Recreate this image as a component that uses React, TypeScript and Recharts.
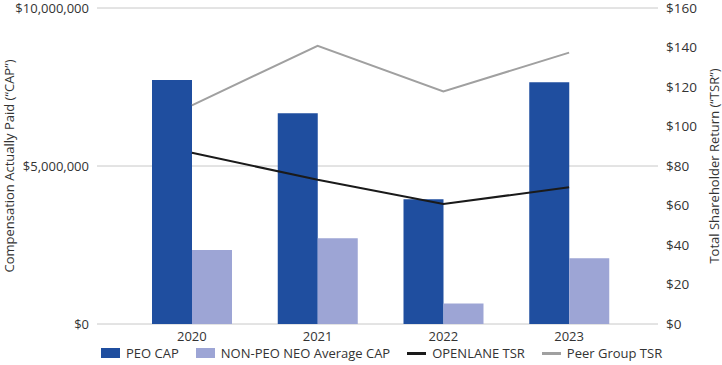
import React from 'react';
import { ComposedChart, Bar, Line, XAxis, YAxis, CartesianGrid, Legend } from 'recharts';

const years = ['2020', '2021', '2022', '2023'];
const peoCap = [7720000, 6670000, 3950000, 7650000];
const nonPeoCap = [2340000, 2710000, 650000, 2080000];
const openlaneTsr = [86.7, 73.0, 60.8, 69.2];
const peerTsr = [110.7, 140.9, 117.8, 137.4];

const capTicks = [0, 5000000, 10000000];
const tsrTicks = [0, 20, 40, 60, 80, 100, 120, 140, 160];

const chartData = years.map((year, i) => ({
  year,
  peoCap: peoCap[i],
  nonPeoCap: nonPeoCap[i],
  openlaneTsr: openlaneTsr[i],
  peerTsr: peerTsr[i],
}));

const FONT = '"Open Sans", sans-serif';
const TEXT = '#333333';

const legendItems = [
  { label: 'PEO CAP', color: '#1F4E9F', kind: 'box' },
  { label: 'NON-PEO NEO Average CAP', color: '#9DA5D5', kind: 'box' },
  { label: 'OPENLANE TSR', color: '#1A1A1A', kind: 'line' },
  { label: 'Peer Group TSR', color: '#A0A0A0', kind: 'line' },
];

function LegendRow() {
  return (
    <div style={{ display: 'flex', alignItems: 'center', paddingLeft: 101, fontFamily: FONT, fontSize: 13, color: TEXT }}>
      {legendItems.map((item) => (
        <div key={item.label} style={{ display: 'flex', alignItems: 'center', marginRight: 17 }}>
          <span
            style={{
              display: 'inline-block',
              width: 19,
              height: item.kind === 'box' ? 10 : 3,
              background: item.color,
              marginRight: 6,
            }}
          />
          <span>{item.label}</span>
        </div>
      ))}
    </div>
  );
}

export default function App() {
  return (
    <div style={{ position: 'absolute', left: 0, top: 0, width: 722, height: 365, background: '#fff' }}>
      <ComposedChart
        width={722}
        height={365}
        data={chartData}
        margin={{ top: 8, right: 0, bottom: 0, left: 0 }}
        barGap={0}
      >
        <CartesianGrid vertical={false} stroke="#C8C8C8" yAxisId="cap" />
        <XAxis
          dataKey="year"
          axisLine={false}
          tickLine={false}
          height={41}
          padding={{ left: 32, right: 26 }}
          tick={{ fill: TEXT, fontSize: 13, fontFamily: FONT }}
        />
        <YAxis
          yAxisId="cap"
          width={97}
          domain={[0, 10000000]}
          ticks={capTicks}
          axisLine={false}
          tickLine={false}
          tick={{ fill: TEXT, fontSize: 13, fontFamily: FONT }}
          tickFormatter={(v: number) => `$${v.toLocaleString('en-US')}`}
          label={{
            value: 'Compensation Actually Paid (“CAP”)',
            angle: -90,
            position: 'insideLeft',
            offset: 9,
            style: { textAnchor: 'middle', fill: TEXT, fontSize: 13, fontFamily: FONT },
          }}
        />
        <YAxis
          yAxisId="tsr"
          orientation="right"
          width={64}
          domain={[0, 160]}
          ticks={tsrTicks}
          axisLine={false}
          tickLine={false}
          tick={{ fill: TEXT, fontSize: 13.5, fontFamily: FONT }}
          tickFormatter={(v: number) => `$${v}`}
          label={{
            value: 'Total Shareholder Return (“TSR”)',
            angle: -90,
            position: 'insideRight',
            offset: 8,
            style: { textAnchor: 'middle', fill: TEXT, fontSize: 13, fontFamily: FONT },
          }}
        />
        <Bar yAxisId="cap" dataKey="peoCap" fill="#1F4E9F" barSize={40} isAnimationActive={false} />
        <Bar yAxisId="cap" dataKey="nonPeoCap" fill="#9DA5D5" barSize={40} isAnimationActive={false} />
        <Line
          yAxisId="tsr"
          type="linear"
          dataKey="openlaneTsr"
          stroke="#1A1A1A"
          strokeWidth={2}
          dot={false}
          activeDot={false}
          isAnimationActive={false}
        />
        <Line
          yAxisId="tsr"
          type="linear"
          dataKey="peerTsr"
          stroke="#A0A0A0"
          strokeWidth={2}
          dot={false}
          activeDot={false}
          isAnimationActive={false}
        />
        <Legend
          layout="vertical"
          align="center"
          verticalAlign="middle"
          wrapperStyle={{ top: 344, left: 0, width: 722 }}
          content={() => <LegendRow />}
        />
      </ComposedChart>
    </div>
  );
}
